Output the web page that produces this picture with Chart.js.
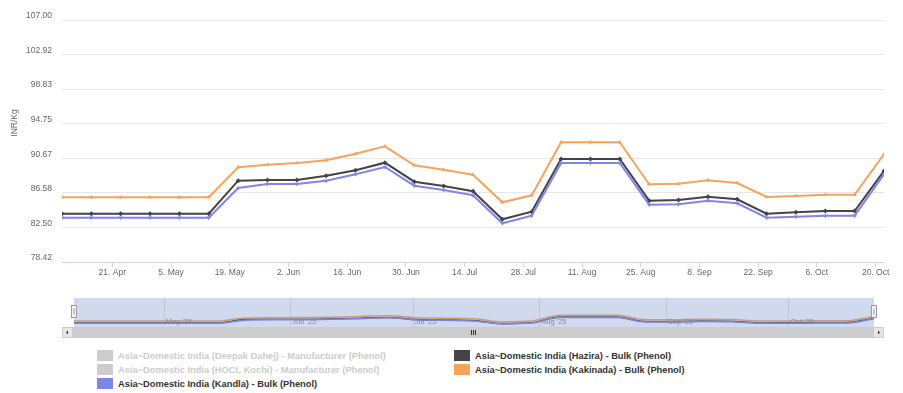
<!DOCTYPE html>
<html><head><meta charset="utf-8">
<script src="https://cdn.jsdelivr.net/npm/chart.js@4.4.1/dist/chart.umd.min.js"></script>
<style>
html,body{margin:0;padding:0;background:#fff;}
#wrap{position:relative;width:903px;height:393px;overflow:hidden;font-family:"Liberation Sans",Arial,sans-serif;}
#main{position:absolute;left:0;top:0;}
#nav{position:absolute;left:0;top:290px;}
.lg{position:absolute;font-size:9.3px;font-weight:bold;color:#333;white-space:nowrap;line-height:12px;}
.lg.off{color:#cccccc;}
.lg i{position:absolute;left:-21px;top:0px;width:16px;height:11px;}
</style></head><body>
<div id="wrap">
<canvas id="main" width="903" height="285"></canvas>
<canvas id="nav" width="903" height="50"></canvas>
<div id="legend"></div>
</div>
<script>
// ---- data ----
const dates = ["2025-04-09","2025-04-16","2025-04-23","2025-04-30","2025-05-07","2025-05-14","2025-05-21","2025-05-28","2025-06-04","2025-06-11","2025-06-18","2025-06-25","2025-07-02","2025-07-09","2025-07-16","2025-07-23","2025-07-30","2025-08-06","2025-08-13","2025-08-20","2025-08-27","2025-09-03","2025-09-10","2025-09-17","2025-09-24","2025-10-01","2025-10-08","2025-10-15","2025-10-22"];
const kakinada = [86.07,86.07,86.07,86.07,86.07,86.07,89.60,89.91,90.11,90.43,91.21,92.08,89.84,89.32,88.73,85.47,86.30,92.56,92.56,92.56,87.60,87.67,88.07,87.75,86.10,86.21,86.37,86.37,91.14];
const hazira   = [84.12,84.12,84.12,84.12,84.12,84.12,88.02,88.10,88.10,88.61,89.25,90.15,87.90,87.39,86.77,83.46,84.36,90.58,90.58,90.58,85.66,85.74,86.13,85.82,84.12,84.29,84.44,84.44,89.17];
const kandla   = [83.65,83.65,83.65,83.65,83.65,83.65,87.16,87.63,87.63,88.02,88.78,89.64,87.43,86.92,86.30,82.99,83.89,90.11,90.11,90.11,85.19,85.23,85.66,85.35,83.65,83.77,83.89,83.89,88.78];
const xTickDates  = ["2025-04-21","2025-05-05","2025-05-19","2025-06-02","2025-06-16","2025-06-30","2025-07-14","2025-07-28","2025-08-11","2025-08-25","2025-09-08","2025-09-22","2025-10-06","2025-10-20"];
const xTickLabels = ["21. Apr","5. May","19. May","2. Jun","16. Jun","30. Jun","14. Jul","28. Jul","11. Aug","25. Aug","8. Sep","22. Sep","6. Oct","20. Oct"];
const yTickValues = [78.4167,82.5,86.5833,90.6667,94.75,98.8333,102.9167,107];
const yTickLabels = ["78.42","82.50","86.58","90.67","94.75","98.83","102.92","107.00"];
const navMonthDates  = ["2025-05-01","2025-06-01","2025-07-01","2025-08-01","2025-09-01","2025-10-01"];
const navMonthLabels = ["May '25","Jun '25","Jul '25","Aug '25","Sep '25","Oct '25"];
const yTitle = "INR/Kg";
const legendItems = [
  {name:"Asia~Domestic India (Deepak Dahej) - Manufacturer (Phenol)", color:"#cccccc", off:true, col:0, row:0},
  {name:"Asia~Domestic India (HOCL Kochi) - Manufacturer (Phenol)", color:"#cccccc", off:true, col:0, row:1},
  {name:"Asia~Domestic India (Kandla) - Bulk (Phenol)", color:"#8085e9", off:false, col:0, row:2},
  {name:"Asia~Domestic India (Hazira) - Bulk (Phenol)", color:"#434348", off:false, col:1, row:0},
  {name:"Asia~Domestic India (Kakinada) - Bulk (Phenol)", color:"#f7a35c", off:false, col:1, row:1}
];

// ---- helpers ----
const toDay = d => Date.parse(d + "T00:00:00Z") / 86400000;
const X = dates.map(toDay);
const pts = arr => arr.map((v, i) => ({x: X[i], y: v}));
const FONT = '"Liberation Sans", Arial, sans-serif';

// ---- main chart ----
const titlePlugin = {
  id: 'ytitle',
  afterDraw(chart) {
    const c = chart.ctx;
    c.save();
    c.translate(15, 123);
    c.rotate(-Math.PI / 2);
    c.font = '8.5px ' + FONT;
    c.fillStyle = '#666666';
    c.textAlign = 'center';
    c.textBaseline = 'middle';
    c.fillText(yTitle, 0, 0);
    c.restore();
  }
};

new Chart(document.getElementById('main'), {
  type: 'line',
  data: {
    datasets: [
      {data: pts(kandla), borderColor: '#8085e9', backgroundColor: '#8085e9', borderWidth: 2,
       pointStyle: 'triangle', pointRotation: 180, pointRadius: 2.5, pointBorderWidth: 0},
      {data: pts(kakinada), borderColor: '#f7a35c', backgroundColor: '#f7a35c', borderWidth: 2,
       pointStyle: 'triangle', pointRadius: 2.5, pointBorderWidth: 0},
      {data: pts(hazira), borderColor: '#434348', backgroundColor: '#434348', borderWidth: 2,
       pointStyle: 'rectRot', pointRadius: 2.5, pointBorderWidth: 0}
    ]
  },
  options: {
    responsive: false, animation: false, events: [],
    plugins: {legend: {display: false}, tooltip: {enabled: false}},
    layout: {padding: {left: 0, right: 19, top: 20, bottom: 0}},
    scales: {
      x: {
        type: 'linear', min: X[0], max: X[X.length - 1],
        afterBuildTicks: s => { s.ticks = xTickDates.map(d => ({value: toDay(d)})); },
        afterFit: s => { s.height = 23; },
        ticks: {autoSkip: false, maxRotation: 0, minRotation: 0, padding: 1, color: '#666666',
          font: {family: FONT, size: 8.5},
          callback: (v, i) => xTickLabels[i]},
        grid: {drawOnChartArea: false, color: '#ccd6eb', tickLength: 5},
        border: {color: '#ccd6eb'}
      },
      y: {
        min: yTickValues[0], max: yTickValues[yTickValues.length - 1],
        afterBuildTicks: s => { s.ticks = yTickValues.map(v => ({value: v})); },
        afterFit: s => { s.width = 62; },
        ticks: {padding: 10, labelOffset: -4, color: '#666666', font: {family: FONT, size: 8.5},
          callback: (v, i) => yTickLabels[i]},
        grid: {color: '#e6e6e6', drawTicks: false},
        border: {display: false}
      }
    }
  },
  plugins: [titlePlugin]
});

// ---- navigator ----
const navPlugin = {
  id: 'nav',
  beforeDatasetsDraw(chart) {
    const c = chart.ctx, a = chart.chartArea, xs = chart.scales.x;
    c.save();
    c.strokeStyle = '#e6e6e6';
    c.lineWidth = 1;
    navMonthDates.forEach(d => {
      const px = Math.round(xs.getPixelForValue(toDay(d))) + 0.5;
      c.beginPath(); c.moveTo(px, a.top); c.lineTo(px, a.bottom); c.stroke();
    });
    c.restore();
  },
  afterDatasetsDraw(chart) {
    const c = chart.ctx, a = chart.chartArea, xs = chart.scales.x;
    c.save();
    c.fillStyle = 'rgba(102,133,194,0.3)';
    c.fillRect(a.left, a.top, a.right - a.left, a.bottom - a.top);
    c.font = '7.5px ' + FONT;
    c.fillStyle = '#8a8a8a';
    c.textAlign = 'left';
    c.textBaseline = 'alphabetic';
    navMonthDates.forEach((d, i) => {
      const px = xs.getPixelForValue(toDay(d));
      c.fillText(navMonthLabels[i], px + 2, a.bottom - 3);
    });
    const sy = a.bottom, sh = 11, L = 62, R = 884;
    c.fillStyle = '#f2f2f2';
    c.fillRect(L, sy, R - L, sh);
    c.fillStyle = '#cccccc';
    c.fillRect(L + 10, sy, R - L - 20, sh);
    c.fillStyle = '#e6e6e6';
    c.fillRect(L, sy, 10, sh);
    c.fillRect(R - 10, sy, 10, sh);
    c.strokeStyle = '#cccccc';
    c.strokeRect(L + 0.5, sy + 0.5, 10, sh - 1);
    c.strokeRect(R - 10.5, sy + 0.5, 10, sh - 1);
    c.fillStyle = '#333333';
    const cy = sy + sh / 2;
    c.beginPath(); c.moveTo(L + 6, cy - 2); c.lineTo(L + 6, cy + 2); c.lineTo(L + 4, cy); c.closePath(); c.fill();
    c.beginPath(); c.moveTo(R - 6, cy - 2); c.lineTo(R - 6, cy + 2); c.lineTo(R - 4, cy); c.closePath(); c.fill();
    const gx = Math.round((L + R) / 2);
    c.strokeStyle = '#333333';
    [-2, 0, 2].forEach(o => { c.beginPath(); c.moveTo(gx + o + 0.5, cy - 2.5); c.lineTo(gx + o + 0.5, cy + 2.5); c.stroke(); });
    [a.left, a.right].forEach(hx => {
      const x0 = Math.round(hx) - 2.5, y0 = a.top + 7.5;
      c.fillStyle = '#f2f2f2';
      c.fillRect(x0, y0, 5, 12);
      c.strokeStyle = '#999999';
      c.strokeRect(x0, y0, 5, 12);
      c.beginPath(); c.moveTo(x0 + 2.5, y0 + 3); c.lineTo(x0 + 2.5, y0 + 9); c.stroke();
    });
    c.restore();
  }
};

new Chart(document.getElementById('nav'), {
  type: 'line',
  data: {
    datasets: [
      {data: pts(kakinada), borderColor: '#f7a35c', borderWidth: 1.5, pointRadius: 0, cubicInterpolationMode: 'monotone'},
      {data: pts(kandla), borderColor: '#8085e9', borderWidth: 1.5, pointRadius: 0, cubicInterpolationMode: 'monotone'},
      {data: pts(hazira), borderColor: '#434348', borderWidth: 1.5, pointRadius: 0, cubicInterpolationMode: 'monotone'}
    ]
  },
  options: {
    responsive: false, animation: false, events: [],
    plugins: {legend: {display: false}, tooltip: {enabled: false}},
    layout: {padding: {left: 74, right: 29, top: 8, bottom: 13}},
    scales: {
      x: {type: 'linear', display: false, min: X[0], max: X[X.length - 1]},
      y: {display: false, min: 79.6, max: 111.5}
    }
  },
  plugins: [navPlugin]
});

// ---- legend (HTML) ----
const lg = document.getElementById('legend');
const colX = [118, 475], rowY = [350, 364, 378];
legendItems.forEach(it => {
  const d = document.createElement('div');
  d.className = 'lg' + (it.off ? ' off' : '');
  d.style.left = colX[it.col] + 'px';
  d.style.top = rowY[it.row] + 'px';
  const sw = document.createElement('i');
  sw.style.background = it.color;
  d.appendChild(sw);
  d.appendChild(document.createTextNode(it.name));
  lg.appendChild(d);
});
</script>
</body></html>
